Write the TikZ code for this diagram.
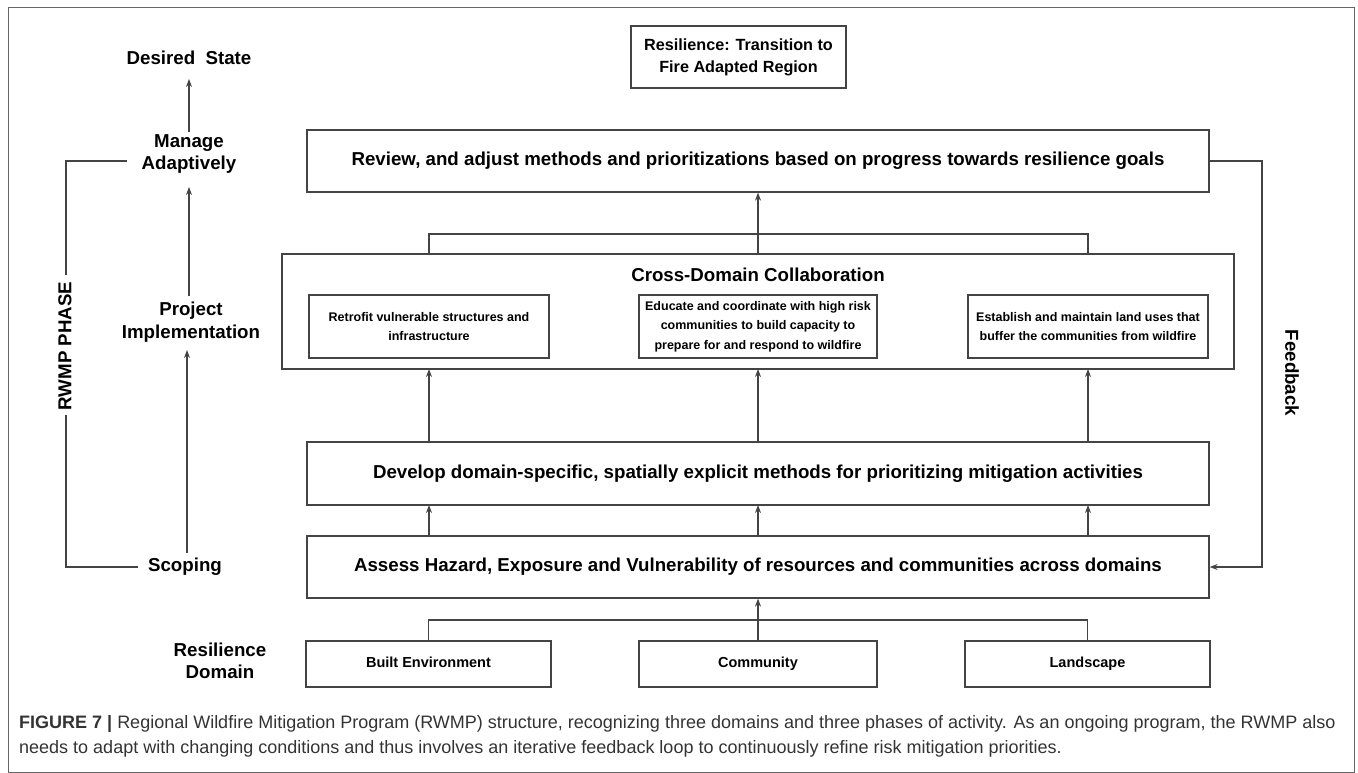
\documentclass[tikz,border=0pt]{standalone}
\usepackage{fontspec}
\setmainfont{Liberation Sans}
\usetikzlibrary{arrows.meta}
\definecolor{linec}{HTML}{444444}
\definecolor{framec}{HTML}{666666}
\definecolor{capc}{HTML}{333333}
\begin{document}
\begin{tikzpicture}[x=1pt,y=-1pt,
  box/.style={draw=linec,line width=1.3pt,inner sep=0pt,align=center,text=black},
  big/.style={font=\fontsize{18.7}{22.5}\selectfont\bfseries},
  top/.style={font=\fontsize{16.2}{22}\selectfont\bfseries},
  small/.style={font=\fontsize{12.5}{19.5}\selectfont\bfseries},
  dom/.style={font=\fontsize{14.5}{18}\selectfont\bfseries},
  lbl/.style={inner sep=0pt,align=center,text=black},
  conn/.style={draw=linec,line width=1.2pt},
  arr/.style={conn,-{Stealth[length=8pt,width=6pt]}}]
\useasboundingbox (0,0) rectangle (1358,773);
\draw[framec,line width=1pt] (8,8) rectangle (1354,772);

% left column labels
\node[lbl,big] (desired) at (189,58) {Desired\ \ State};
\node[lbl,big] (manage) at (189,154) {Manage\\Adaptively};
\node[lbl,big] (project) at (191,322) {Project\\Implementation};
\node[lbl,big] (scoping) at (185,567) {Scoping\strut};
\node[lbl,big] (domain) at (220,661) {Resilience\\Domain};
\node[lbl,big,rotate=90] (rwmp) at (65,346) {RWMP PHASE};
\node[lbl,big,rotate=-90] (feedback) at (1292,373) {Feedback};

% boxes
\node[box,top,minimum width=215,minimum height=62] (resil) at (738.5,57) {Resilience: Transition to\\Fire Adapted Region};
\node[box,big,minimum width=902,minimum height=62] (review) at (758,161) {Review, and adjust methods and prioritizations based on progress towards resilience goals\strut};
\node[box,minimum width=952,minimum height=115] (cross) at (758,311.5) {};
\node[lbl,big] (crosst) at (758,275) {Cross-Domain Collaboration};
\node[box,small,minimum width=240,minimum height=63] (retro) at (429,326.5) {Retrofit vulnerable structures and\\infrastructure};
\node[box,small,minimum width=238,minimum height=63] (educ) at (758,326.5) {Educate and coordinate with high risk\\communities to build capacity to\\prepare for and respond to wildfire};
\node[box,small,minimum width=240,minimum height=63] (estab) at (1088,326.5) {Establish and maintain land uses that\\buffer the communities from wildfire};
\node[box,big,minimum width=902,minimum height=63] (develop) at (758,473.5) {Develop domain-specific, spatially explicit methods for prioritizing mitigation activities\strut};
\node[box,big,minimum width=902,minimum height=62] (assess) at (758,567) {Assess Hazard, Exposure and Vulnerability of resources and communities across domains\strut};
\node[box,dom,minimum width=245,minimum height=46] (built) at (428.5,664) {Built Environment\strut};
\node[box,dom,minimum width=238,minimum height=46] (comm) at (758,664) {Community\strut};
\node[box,dom,minimum width=245,minimum height=46] (land) at (1087.5,664) {Landscape\strut};

% left column arrows
\draw[arr] (189,132) -- (189,79);
\draw[arr] (189,296) -- (189,187);
\draw[arr] (187,553) -- (187,350);
\draw[conn] (127,161) -- (66,161) -- (66,275);
\draw[conn] (66,415) -- (66,567) -- (138,567);

% feedback loop
\draw[arr] (review.east) -- (1262,161) -- (1262,567) -- (assess.east);

% domains to assess
\draw[conn] (built.north) -- (built.north |- 0,620) -- (land.north |- 0,620) -- (land.north);
\draw[arr] (comm.north) -- (assess.south);

% assess to develop, develop to cross
\foreach \x in {429,758,1088} {
  \draw[arr] (\x,536) -- (\x,505);
  \draw[arr] (\x,442) -- (\x,369);
}
% cross to review
\draw[conn] (429,254) -- (429,234) -- (1088,234) -- (1088,254);
\draw[arr] (cross.north) -- (review.south);

% caption
\node[anchor=west,inner sep=0pt,text=capc,font=\fontsize{18}{23}\selectfont] (cap1) at (19,724) {\textbf{FIGURE 7 |} Regional Wildfire Mitigation Program (RWMP) structure, recognizing three domains and three phases of activity. As an ongoing program, the RWMP also};
\node[anchor=west,inner sep=0pt,text=capc,font=\fontsize{18}{23}\selectfont] (cap2) at (19,749) {needs to adapt with changing conditions and thus involves an iterative feedback loop to continuously refine risk mitigation priorities.};
\end{tikzpicture}
\end{document}
